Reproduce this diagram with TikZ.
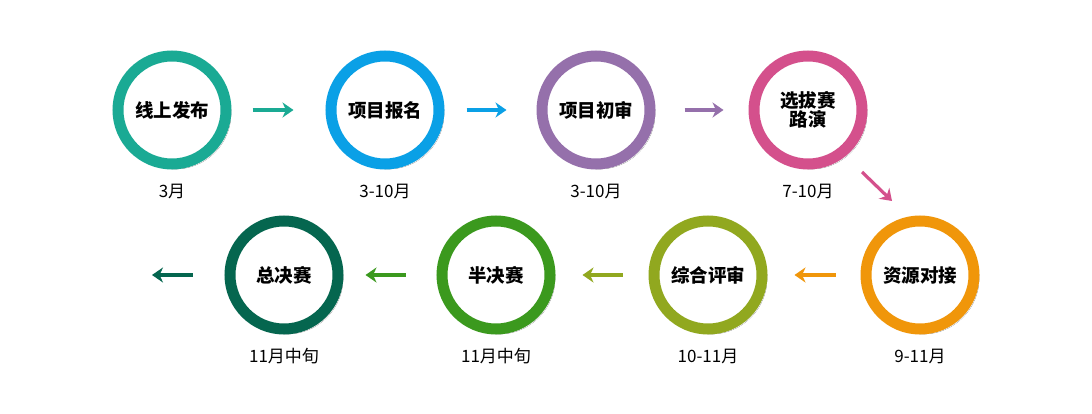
\documentclass[tikz,border=0pt]{standalone}
\usepackage{fontspec}
\setmainfont{Noto Sans CJK SC}
\newfontfamily\cjk{Noto Sans CJK SC}
\usetikzlibrary{arrows.meta,shadows.blur}
\definecolor{cA}{HTML}{1AAA94}
\definecolor{cB}{HTML}{0AA0E6}
\definecolor{cC}{HTML}{9570AB}
\definecolor{cD}{HTML}{D4508C}
\definecolor{cE}{HTML}{F0960A}
\definecolor{cF}{HTML}{91A81F}
\definecolor{cG}{HTML}{3B991E}
\definecolor{cH}{HTML}{05664F}
\tikzset{
  ring/.style={circle, draw=#1, line width=11pt, minimum size=108pt, inner sep=0pt,
    fill=white, align=center, font=\cjk\bfseries\fontsize{18.5}{22}\selectfont,
    blur shadow={shadow xshift=3pt, shadow yshift=-3pt, shadow blur steps=6, shadow opacity=60}},
  lbl/.style={font=\cjk\fontsize{17}{20}\selectfont, inner sep=0pt},
  arr/.style={draw=#1, line width=3.2pt, -{Stealth[length=11pt,width=15pt,inset=3.5pt]}}
}
\begin{document}
\begin{tikzpicture}[x=1pt,y=-1pt]
\useasboundingbox (0,0) rectangle (1092,414);
\fill[white] (0,0) rectangle (1092,414);
% top row
\node[ring=cA] (c1) at (172,110) {线上发布};
\node[ring=cB] (c2) at (385,110) {项目报名};
\node[ring=cC] (c3) at (596,110) {项目初审};
\node[ring=cD] (c4) at (808,110) {选拔赛\\[-3pt]路演};
% bottom row
\node[ring=cE] (c5) at (920,275) {资源对接};
\node[ring=cF] (c6) at (708,275) {综合评审};
\node[ring=cG] (c7) at (496,275) {半决赛};
\node[ring=cH] (c8) at (284,275) {总决赛};
% labels
\node[lbl] (l1) at (172,191) {3月};
\node[lbl] (l2) at (385,191) {3-10月};
\node[lbl] (l3) at (596,191) {3-10月};
\node[lbl] (l4) at (808,191) {7-10月};
\node[lbl] (l5) at (920,356) {9-11月};
\node[lbl] (l6) at (708,356) {10-11月};
\node[lbl] (l7) at (496,356) {11月中旬};
\node[lbl] (l8) at (284,356) {11月中旬};
% arrows
\coordinate (d1) at (862,172);
\coordinate (d2) at (892,201);
\coordinate (fin) at (152,275);
\draw[arr=cA] ([xshift=21pt]c1.east) -- ([xshift=-32pt]c2.west);
\draw[arr=cB] ([xshift=22pt]c2.east) -- ([xshift=-30pt]c3.west);
\draw[arr=cC] ([xshift=29pt]c3.east) -- ([xshift=-25pt]c4.west);
\draw[arr=cD] (d1) -- (d2);
\draw[arr=cE] ([xshift=-25pt]c5.west) -- ([xshift=27pt]c6.east);
\draw[arr=cF] ([xshift=-26pt]c6.west) -- ([xshift=27pt]c7.east);
\draw[arr=cG] ([xshift=-31pt]c7.west) -- ([xshift=22pt]c8.east);
\draw[arr=cH] ([xshift=-32pt]c8.west) -- (fin);
\end{tikzpicture}
\end{document}
